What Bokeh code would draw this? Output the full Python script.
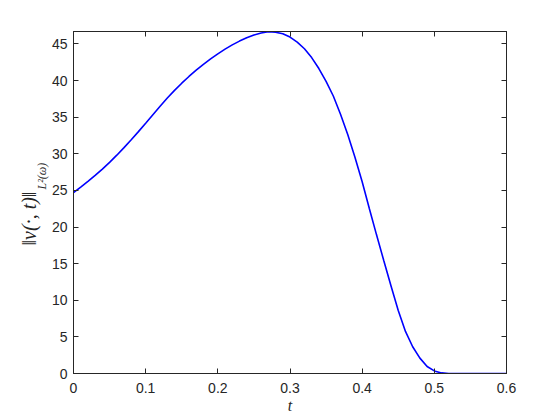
from bokeh.plotting import figure
from bokeh.models import Range1d, LinearAxis, FixedTicker, Title
from bokeh.embed import file_html
from bokeh.resources import INLINE

# time samples
t = [0.00, 0.01, 0.02, 0.03, 0.04, 0.05, 0.06, 0.07, 0.08, 0.09,
     0.10, 0.11, 0.12, 0.13, 0.14, 0.15, 0.16, 0.17, 0.18, 0.19,
     0.20, 0.21, 0.22, 0.23, 0.24, 0.25, 0.26, 0.27, 0.28, 0.29,
     0.30, 0.31, 0.32, 0.33, 0.34, 0.35, 0.36, 0.37, 0.38, 0.39,
     0.40, 0.41, 0.42, 0.43, 0.44, 0.45, 0.46, 0.47, 0.48, 0.49,
     0.50, 0.51, 0.52, 0.53, 0.54, 0.55, 0.56, 0.57, 0.58, 0.59, 0.60]
# ||v(.,t)||_{L2(omega)}
v = [24.70, 25.46, 26.24, 27.05, 27.91, 28.83, 29.81, 30.84, 31.92, 33.03,
     34.17, 35.33, 36.49, 37.62, 38.66, 39.64, 40.56, 41.42, 42.22, 42.96,
     43.65, 44.29, 44.87, 45.39, 45.84, 46.21, 46.49, 46.66, 46.61, 46.39,
     45.94, 45.26, 44.34, 43.14, 41.64, 39.89, 37.89, 35.39, 32.64, 29.54,
     26.19, 22.49, 18.90, 15.40, 11.95, 8.60, 5.75, 3.65, 2.10, 0.95,
     0.35, 0.08, 0.01, 0.00, 0.00, 0.00, 0.00, 0.00, 0.00, 0.00, 0.00]

xticks = [0, 0.1, 0.2, 0.3, 0.4, 0.5, 0.6]
xtick_labels = ["0", "0.1", "0.2", "0.3", "0.4", "0.5", "0.6"]
yticks = [0, 5, 10, 15, 20, 25, 30, 35, 40, 45]
ytick_labels = ["0", "5", "10", "15", "20", "25", "30", "35", "40", "45"]

AX = "#262626"
TICK_FONT = "Liberation Sans"
TICK_SIZE = "14px"
SERIF = "Liberation Serif"

p = figure(width=560, height=420, output_backend="svg", toolbar_location=None,
           x_range=Range1d(0, 0.6), y_range=Range1d(0, 46.7),
           min_border_left=73, min_border_right=54, min_border_top=31,
           min_border_bottom=47)
p.xgrid.visible = False
p.ygrid.visible = False
p.outline_line_color = AX
p.outline_line_width = 1
p.background_fill_color = "white"
p.border_fill_color = "white"

p.line(t, v, line_color="#0000ff", line_width=1.6)


def style(ax, ticks, labels, show):
    ax.ticker = FixedTicker(ticks=ticks)
    ax.major_label_overrides = {k: (lab if show else "") for k, lab in zip(ticks, labels)}
    ax.axis_line_color = AX
    ax.axis_line_width = 1
    ax.major_tick_line_color = AX
    ax.major_tick_in = 5
    ax.major_tick_out = 0
    ax.minor_tick_line_color = None
    ax.major_label_text_color = AX
    ax.major_label_text_font = TICK_FONT
    ax.major_label_text_font_size = TICK_SIZE


style(p.xaxis[0], xticks, xtick_labels, True)
p.xaxis[0].major_label_standoff = 9
p.xaxis[0].axis_label = "t"
p.xaxis[0].axis_label_text_font = SERIF
p.xaxis[0].axis_label_text_font_style = "italic"
p.xaxis[0].axis_label_text_font_size = "16px"
p.xaxis[0].axis_label_text_color = AX
p.xaxis[0].axis_label_standoff = 1

style(p.yaxis[0], yticks, ytick_labels, True)
p.yaxis[0].major_label_standoff = 6

top = LinearAxis()
style(top, xticks, xtick_labels, False)
p.add_layout(top, "above")
right = LinearAxis()
style(right, yticks, ytick_labels, False)
p.add_layout(right, "right")

# y-axis title: main part and subscript, stacked outward from the axis
sub = Title(text="L²(ω)", align="left", offset=184, standoff=0,
            vertical_align="bottom", text_font=SERIF, text_font_style="italic",
            text_font_size="12px", text_color=AX)
main = Title(text="‖v(·, t)‖", align="left", offset=128, standoff=-14,
             vertical_align="bottom", text_font=SERIF, text_font_style="italic",
             text_font_size="20px", text_color=AX)
p.add_layout(sub, "left")
p.add_layout(main, "left")

open("out.html", "w").write(file_html(p, INLINE))
